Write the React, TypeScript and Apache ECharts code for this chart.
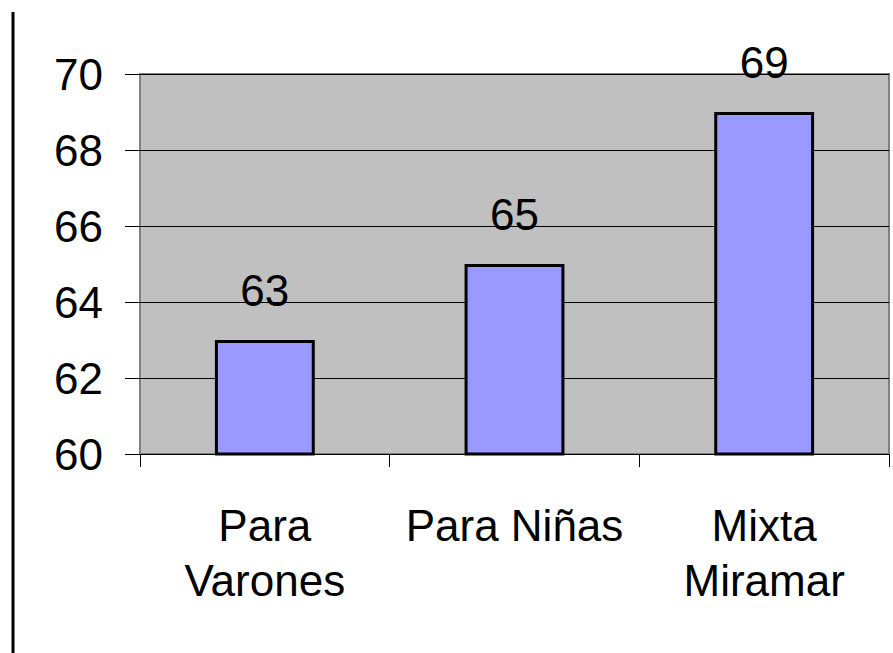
import React, { useEffect, useRef } from "react";
import * as echarts from "echarts";

const categories = ["Para\nVarones", "Para Niñas", "Mixta\nMiramar"];
const values = [63, 65, 69];
const yMin = 60;
const yMax = 70;
const yStep = 2;

export default function App() {
  const ref = useRef<HTMLDivElement>(null);
  useEffect(() => {
    if (!ref.current) return;
    const chart = echarts.init(ref.current, null, { renderer: "svg" });
    const font = "Arial, 'Liberation Sans', sans-serif";
    chart.setOption({
      animation: false,
      backgroundColor: "#ffffff",
      grid: {
        left: 140,
        right: 4,
        top: 74,
        bottom: 199,
        show: true,
        backgroundColor: "#C0C0C0",
        borderColor: "#808080",
        borderWidth: 2,
      },
      xAxis: {
        type: "category",
        data: categories,
        axisLine: { show: true, lineStyle: { color: "#000", width: 1 } },
        axisTick: { show: true, length: 13, lineStyle: { color: "#000" }, alignWithLabel: false },
        axisLabel: {
          interval: 0,
          hideOverlap: false,
          color: "#000",
          fontFamily: font,
          fontSize: 44,
          lineHeight: 55,
          margin: 44,
        },
        splitLine: { show: false },
      },
      yAxis: {
        type: "value",
        min: yMin,
        max: yMax,
        interval: yStep,
        axisLine: { show: false },
        axisTick: { show: true, length: 15, lineStyle: { color: "#000" } },
        axisLabel: {
          color: "#000",
          fontFamily: font,
          fontSize: 44,
          margin: 37,
        },
        splitLine: { show: true, lineStyle: { color: "#000", width: 1 } },
      },
      series: [
        {
          type: "bar",
          data: values,
          barWidth: "40%",
          itemStyle: { color: "#9999FF", borderColor: "#000", borderWidth: 3 },
          label: {
            show: true,
            position: "top",
            distance: 28,
            color: "#000",
            fontFamily: font,
            fontSize: 44,
          },
        },
      ],
      graphic: [
        {
          type: "line",
          shape: { x1: 13, y1: 12, x2: 13, y2: 653 },
          style: { stroke: "#000", lineWidth: 3 },
        },
      ],
    });
    return () => chart.dispose();
  }, []);
  return (
    <div
      ref={ref}
      style={{ position: "fixed", left: 0, top: 0, width: 893, height: 653 }}
    />
  );
}
